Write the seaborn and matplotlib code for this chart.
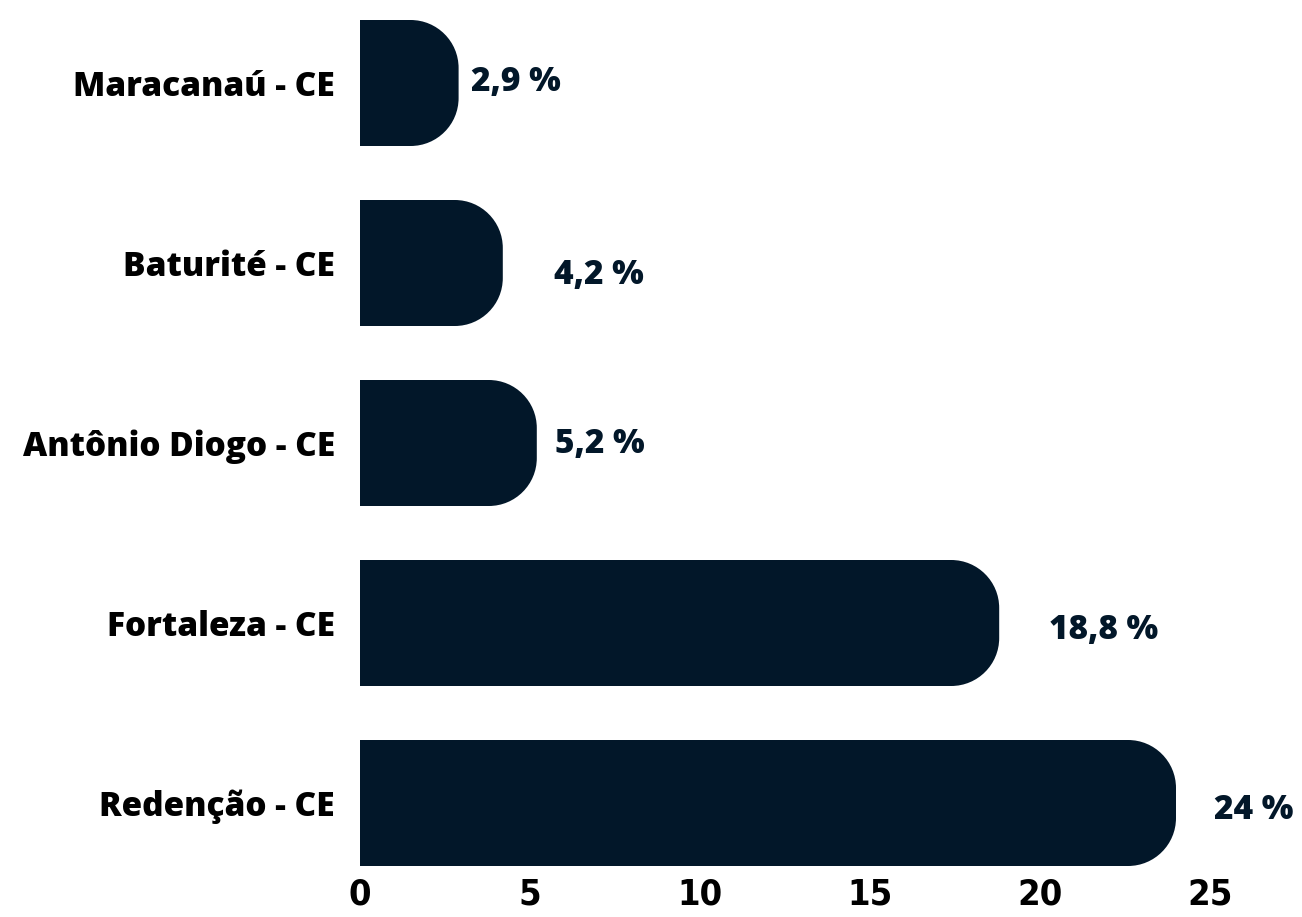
import numpy as np
import pandas as pd
import seaborn as sns
import matplotlib.pyplot as plt
from matplotlib.path import Path
from matplotlib.patches import PathPatch

cidades = ["Maracanaú - CE", "Baturité - CE", "Antônio Diogo - CE", "Fortaleza - CE", "Redenção - CE"]
valores = [2.9, 4.2, 5.2, 18.8, 24]
rotulos = ["2,9 %", "4,2 %", "5,2 %", "18,8 %", "24 %"]
# label offsets in pixels (dx, dy) as drawn in the original
desloc = [(12, 1), (51, -12), (18, -1), (50, -7), (38, -7)]

cor = "#021729"

sns.set_theme(style="white")
plt.rcParams['font.family'] = ['Open Sans', 'DejaVu Sans']

fig = plt.figure(figsize=(13.02, 9.17), dpi=100)
ax = fig.add_axes([360/1302, 51/917, 850/1302, 846/917])

df = pd.DataFrame({"cidade": cidades, "valor": valores})
sns.barplot(data=df, x="valor", y="cidade", color=cor, saturation=1, width=0.7, ax=ax)

ax.set_xlim(0, 25)
ax.set_ylim(4.35, -0.35)

# rounded right ends
px_x = 850 / 25
px_y = 846 / 4.7
r = 48
rx, ry = r / px_x, r / px_y
k = 0.5523
for p in list(ax.patches):
    x0, y0 = p.get_x(), p.get_y()
    w, h = p.get_width(), p.get_height()
    x1, y1 = x0 + w, y0 + h
    verts = [
        (x0, y0), (x1 - rx, y0),
        (x1 - rx + k * rx, y0), (x1, y0 + ry - k * ry), (x1, y0 + ry),
        (x1, y1 - ry),
        (x1, y1 - ry + k * ry), (x1 - rx + k * rx, y1), (x1 - rx, y1),
        (x0, y1), (x0, y0),
    ]
    codes = [Path.MOVETO, Path.LINETO,
             Path.CURVE4, Path.CURVE4, Path.CURVE4,
             Path.LINETO,
             Path.CURVE4, Path.CURVE4, Path.CURVE4,
             Path.LINETO, Path.CLOSEPOLY]
    ax.add_patch(PathPatch(Path(verts, codes), facecolor=cor, edgecolor="none"))
    p.remove()

for i, (v, t) in enumerate(zip(valores, rotulos)):
    dx, dy = desloc[i]
    ax.annotate(t, (v, i), xytext=(dx * 0.72, dy * 0.72), textcoords="offset points",
                ha="left", va="center", fontsize=24, fontweight="heavy", color=cor,
                annotation_clip=False)

ax.set_xlabel("")
ax.set_ylabel("")
ax.set_xticks([0, 5, 10, 15, 20, 25])
ax.tick_params(axis="both", length=0)
ax.tick_params(axis="y", pad=18, labelsize=24)
ax.tick_params(axis="x", pad=8, labelsize=26)
for lab in ax.get_yticklabels():
    lab.set_fontweight("heavy")
    lab.set_color("black")
for lab in ax.get_xticklabels():
    lab.set_fontweight("bold")
    lab.set_family("DejaVu Sans")
    lab.set_fontstretch("condensed")
    lab.set_color("black")
sns.despine(ax=ax, left=True, bottom=True)

fig.savefig("out.png", dpi=100)
